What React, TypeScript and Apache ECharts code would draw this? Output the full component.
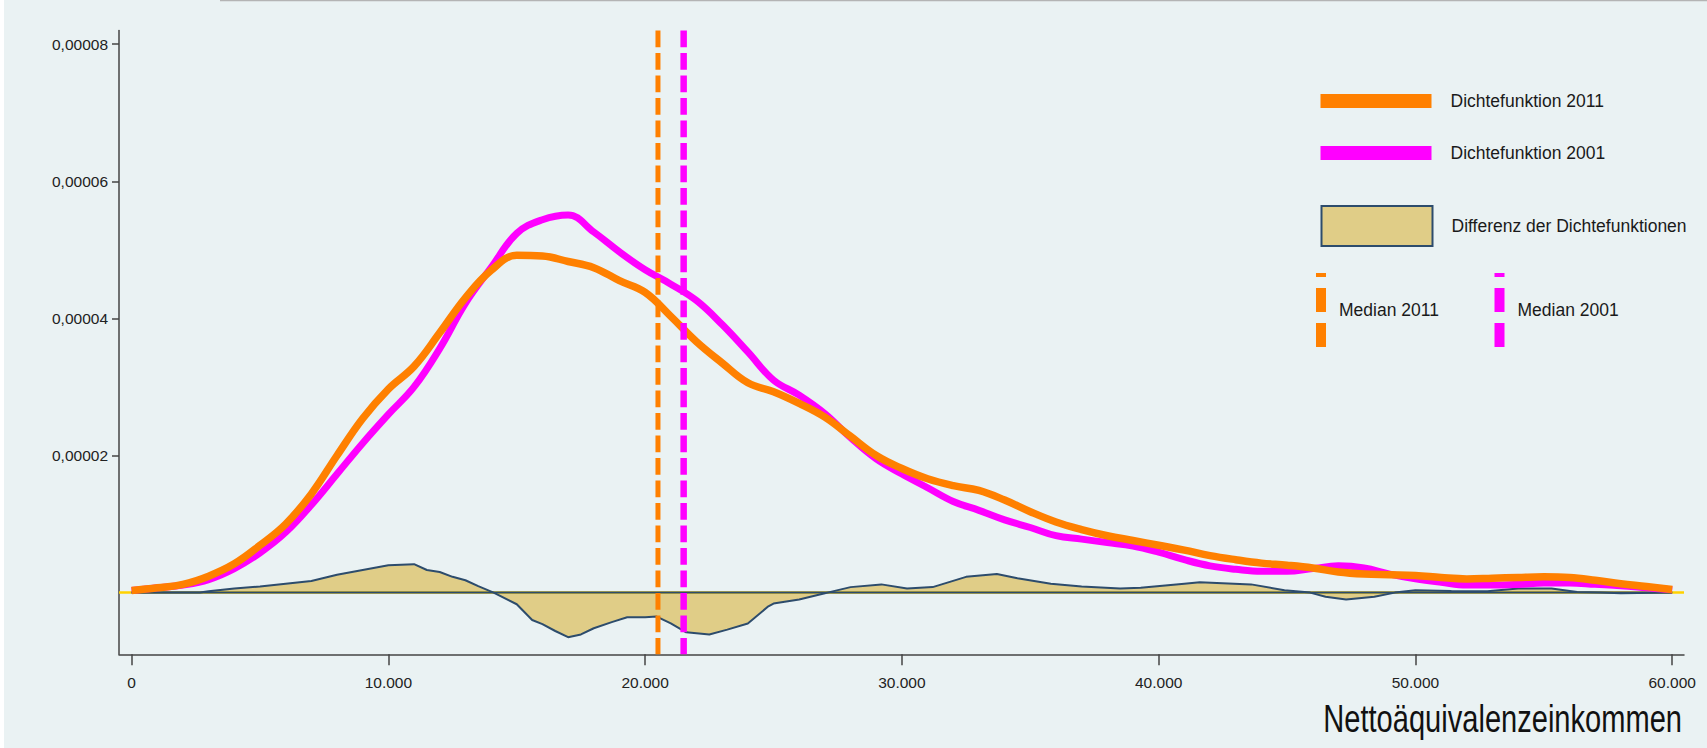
import React, { useEffect, useRef } from "react";
import * as echarts from "echarts";

// ---------- data ----------
const incomeGrid = [
  0, 1000, 2000, 3000, 4000, 5000, 6000, 7000, 8000, 9000,
  10000, 11000, 12000, 13000, 14000, 15000, 16000, 17000, 18000, 19000,
  20000, 21000, 22000, 23000, 24000, 25000, 26000, 27000, 28000, 29000,
  30000, 31000, 32000, 33000, 34000, 35000, 36000, 37000, 38000, 39000,
  40000, 41000, 42000, 43000, 44000, 45000, 46000, 47000, 48000, 49000,
  50000, 51000, 52000, 53000, 54000, 55000, 56000, 57000, 58000, 59000,
  60000,
];
// densities in units of 1e-6
const density2011 = [
  0.3, 0.7, 1.2, 2.4, 4.2, 6.9, 10.0, 14.4, 20.0, 25.4,
  29.7, 33.0, 37.9, 43.0, 47.0, 49.2, 49.1, 48.3, 47.4, 45.5,
  43.8, 40.3, 36.6, 33.5, 30.6, 29.3, 27.6, 25.6, 22.8, 20.0,
  18.1, 16.6, 15.6, 14.9, 13.5, 11.8, 10.3, 9.2, 8.3, 7.6,
  6.9, 6.2, 5.4, 4.8, 4.3, 4.0, 3.6, 3.0, 2.7, 2.6,
  2.5, 2.2, 2.0, 2.1, 2.2, 2.3, 2.2, 1.8, 1.3, 0.9,
  0.45,
];
const density2001 = [
  0.3, 0.7, 1.1, 1.9, 3.5, 5.8, 8.8, 12.8, 17.3, 21.8,
  26.0, 30.0, 35.6, 42.2, 47.4, 52.4, 54.4, 55.1, 52.6, 49.7,
  47.1, 45.0, 42.6, 39.1, 35.1, 31.0, 28.8, 26.1, 22.6, 19.5,
  17.3, 15.3, 13.3, 12.0, 10.6, 9.5, 8.3, 7.8, 7.3, 6.8,
  5.9, 4.8, 3.9, 3.4, 3.1, 3.1, 3.5, 3.9, 3.6, 2.7,
  2.0, 1.5, 1.1, 1.1, 1.2, 1.4, 1.4, 1.2, 1.0, 0.7,
  0.4,
];
const diffIncome = [
  0, 2000, 2660, 3000, 4000, 5000, 6000, 7000, 8000, 9000,
  10000, 11000, 11500, 12000, 12500, 13000, 13500, 14100, 15000, 15600,
  16000, 16500, 17000, 17500, 18000, 18700, 19300, 20000, 20450, 21000,
  21600, 22500, 23200, 24000, 24800, 25000, 26000, 27000, 27100, 28000,
  29200, 30200, 31200, 32500, 33700, 34500, 35800, 37000, 38500, 39300,
  41000, 41600, 43600, 44900, 45900, 46500, 47300, 48400, 49200, 50000,
  51400, 52800, 54000, 55300, 56300, 57200, 58000, 60000,
];
const diffValues = [
  0, 0, 0, 0.2, 0.6, 0.9, 1.3, 1.7, 2.6, 3.3,
  4.0, 4.15, 3.3, 3.0, 2.3, 1.8, 0.95, 0, -1.7, -4.0,
  -4.6, -5.6, -6.5, -6.1, -5.2, -4.3, -3.6, -3.6, -3.5, -4.5,
  -5.8, -6.1, -5.4, -4.5, -2.0, -1.6, -1.0, -0.1, 0, 0.8,
  1.2, 0.6, 0.8, 2.3, 2.7, 2.1, 1.3, 0.9, 0.6, 0.7,
  1.3, 1.5, 1.2, 0.35, 0, -0.6, -1.0, -0.6, 0, 0.35,
  0.25, 0.2, 0.6, 0.6, 0.1, 0, -0.1, 0,
];
const median2011 = 20500;
const median2001 = 21500;
const xTicks = [0, 10000, 20000, 30000, 40000, 50000, 60000];
const yTicks = [0.00002, 0.00004, 0.00006, 0.00008];
const seriesNames = [
  "Dichtefunktion 2011",
  "Dichtefunktion 2001",
  "Differenz der Dichtefunktionen",
  "Median 2011",
  "Median 2001",
];
const axisTitle = "Nettoäquivalenzeinkommen";
const UNIT = 1e-6;
const X_MIN = -491;
const X_MAX = 60460;
const Y_MIN = -0.000009;
const Y_MAX = 0.000082;

const FONT = "'Liberation Sans', Arial, sans-serif";
const ORANGE = "#FF8000";
const MAGENTA = "#FF00FF";
const TAN = "#E0CD87";
const NAVY = "#2D4C6C";
const AXIS = "#444444";

const fmtX = (v: number) => String(v).replace(/\B(?=(\d{3})+(?!\d))/g, ".");
const fmtY = (v: number) => v.toFixed(5).replace(".", ",");

export default function App() {
  const ref = useRef<HTMLDivElement>(null);
  useEffect(() => {
    document.body.style.margin = "0";
    if (!ref.current) return;
    const chart = echarts.init(ref.current, null, { renderer: "svg" });
    const pairs = (xs: number[], ys: number[]) => xs.map((x, i) => [x, ys[i] * UNIT]);
    const legendText = {
      fontFamily: FONT,
      fontSize: 17.5,
      color: "#1a1a1a",
      lineHeight: 18,
    };
    const medianIcon = "path://M0,0H10V4H0Z M0,15H10V39H0Z M0,50H10V74H0Z";
    chart.setOption({
      animation: false,
      backgroundColor: "#EAF2F3",
      grid: { left: 119, right: 23, top: 30.5, bottom: 93.7, containLabel: false },
      xAxis: {
        type: "value",
        min: X_MIN,
        max: X_MAX,
        splitLine: { show: false },
        axisLine: { show: true, onZero: false, lineStyle: { color: AXIS, width: 1.5 } },
        axisTick: { show: true, length: 11, customValues: xTicks, lineStyle: { color: AXIS, width: 1.5 } },
        axisLabel: {
          customValues: xTicks,
          formatter: (v: number) => fmtX(v),
          margin: 20,
          fontFamily: FONT,
          fontSize: 15.5,
          lineHeight: 16,
          color: "#222",
        },
      },
      yAxis: {
        type: "value",
        min: Y_MIN,
        max: Y_MAX,
        splitLine: { show: false },
        axisLine: { show: true, onZero: false, lineStyle: { color: AXIS, width: 1.5 } },
        axisTick: { show: true, length: 7, customValues: yTicks, lineStyle: { color: AXIS, width: 1.5 } },
        axisLabel: {
          customValues: yTicks,
          formatter: (v: number) => fmtY(v),
          margin: 11,
          fontFamily: FONT,
          fontSize: 15.5,
          color: "#222",
        },
      },
      legend: [
        {
          data: [seriesNames[0]], left: 1320.5, top: 92, padding: 0, orient: "vertical",
          icon: "rect", itemWidth: 111, itemHeight: 14, selectedMode: false,
          itemStyle: { color: ORANGE, borderWidth: 0 },
          textStyle: { ...legendText, padding: [0, 0, 0, 14] },
        },
        {
          data: [seriesNames[1]], left: 1320.5, top: 144, padding: 0, orient: "vertical",
          icon: "rect", itemWidth: 111, itemHeight: 14, selectedMode: false,
          itemStyle: { color: MAGENTA, borderWidth: 0 },
          textStyle: { ...legendText, padding: [0, 0, 0, 14] },
        },
        {
          data: [seriesNames[2]], left: 1320.5, top: 205, padding: 0, orient: "vertical",
          icon: "rect", itemWidth: 111, itemHeight: 40, selectedMode: false,
          itemStyle: { color: TAN, borderColor: NAVY, borderWidth: 2 },
          textStyle: { ...legendText, padding: [0, 0, 0, 14] },
        },
        {
          data: [seriesNames[3]], left: 1316, top: 273, padding: 0, orient: "vertical",
          icon: medianIcon, itemWidth: 10, itemHeight: 74, selectedMode: false,
          itemStyle: { color: ORANGE, borderWidth: 0 },
          textStyle: { ...legendText, padding: [0, 0, 0, 8] },
        },
        {
          data: [seriesNames[4]], left: 1494.5, top: 273, padding: 0, orient: "vertical",
          icon: medianIcon, itemWidth: 10, itemHeight: 74, selectedMode: false,
          itemStyle: { color: MAGENTA, borderWidth: 0 },
          textStyle: { ...legendText, padding: [0, 0, 0, 8] },
        },
      ],
      graphic: [
        { type: "rect", shape: { x: 0, y: 0, width: 4, height: 748 }, style: { fill: "#ffffff" }, silent: true },
        { type: "line", shape: { x1: 220, y1: 0.5, x2: 1707, y2: 0.5 }, style: { stroke: "#B4B4B4", lineWidth: 1.5 }, silent: true },
        {
          type: "text",
          x: 1682,
          y: 719,
          scaleX: 0.765,
          style: {
            text: axisTitle,
            fontFamily: FONT,
            fontSize: 38,
            fill: "#111",
            align: "right",
            verticalAlign: "middle",
            textAlign: "right",
            textVerticalAlign: "middle",
          },
          silent: true,
        },
      ],
      series: [
        {
          type: "line", name: "zeroYellow", data: [[X_MIN, 0], [X_MAX, 0]], symbol: "none", silent: true,
          lineStyle: { color: "#FFD200", width: 2.5 }, itemStyle: { color: "#FFD200" },
        },
        {
          type: "line", name: seriesNames[2], data: pairs(diffIncome, diffValues), symbol: "none", silent: true,
          lineStyle: { color: NAVY, width: 2 }, itemStyle: { color: TAN },
          areaStyle: { color: TAN, opacity: 1, origin: 0 },
        },
        {
          type: "line", name: "zeroNavy", data: [[0, 0], [60000, 0]], symbol: "none", silent: true,
          lineStyle: { color: NAVY, width: 2 }, itemStyle: { color: NAVY },
        },
        {
          type: "line", name: seriesNames[1], data: pairs(incomeGrid, density2001), symbol: "none", smooth: 0.4, silent: true,
          lineStyle: { color: MAGENTA, width: 7 }, itemStyle: { color: MAGENTA },
        },
        {
          type: "line", name: seriesNames[0], data: pairs(incomeGrid, density2011), symbol: "none", smooth: 0.4, silent: true,
          lineStyle: { color: ORANGE, width: 7.5 }, itemStyle: { color: ORANGE },
        },
        {
          type: "line", name: seriesNames[3], data: [[median2011, Y_MAX], [median2011, Y_MIN]], symbol: "none", silent: true,
          lineStyle: { color: ORANGE, width: 5, type: [16.7, 5.8] }, itemStyle: { color: ORANGE },
        },
        {
          type: "line", name: seriesNames[4], data: [[median2001, Y_MAX], [median2001, Y_MIN]], symbol: "none", silent: true,
          lineStyle: { color: MAGENTA, width: 6.5, type: [16.7, 5.8] }, itemStyle: { color: MAGENTA },
        },
      ],
    });
    return () => chart.dispose();
  }, []);
  return <div ref={ref} style={{ width: 1707, height: 748 }} />;
}
